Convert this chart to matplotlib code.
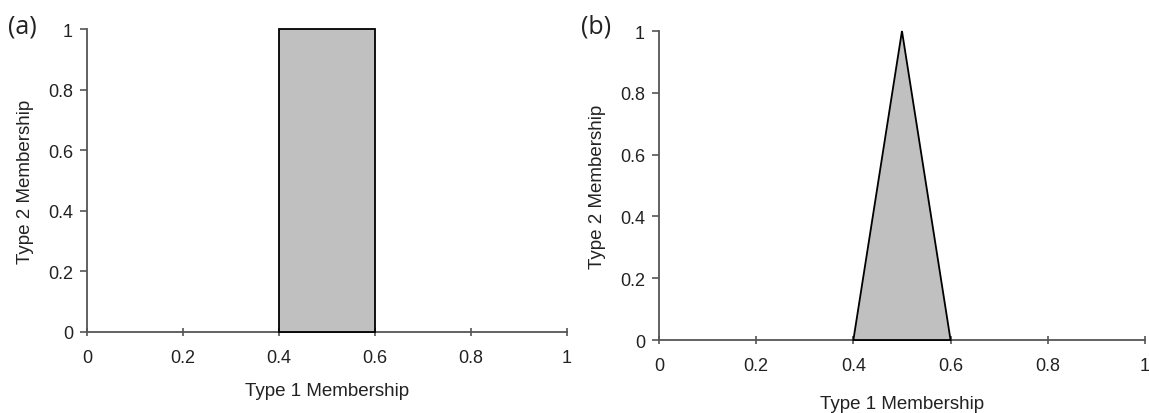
import matplotlib
matplotlib.use("Agg")
import matplotlib.pyplot as plt

# data
rect_x = [0.4, 0.4, 0.6, 0.6]
rect_y = [0, 1, 1, 0]
tri_x = [0.4, 0.5, 0.6]
tri_y = [0, 1, 0]
ticks = [0, 0.2, 0.4, 0.6, 0.8, 1]
tick_labels = ["0", "0.2", "0.4", "0.6", "0.8", "1"]

plt.rcParams["font.family"] = ["Liberation Sans", "DejaVu Sans"]

fig = plt.figure(figsize=(11.49, 4.14), dpi=100)
ax1 = fig.add_axes([0.0757, 0.1957, 0.4178, 0.7318])
ax2 = fig.add_axes([0.5735, 0.1763, 0.4230, 0.7464])


def style(ax, xlabel_pad):
    ax.set_xlim(0, 1)
    ax.set_ylim(0, 1)
    ax.set_xticks(ticks)
    ax.set_xticklabels(tick_labels)
    ax.set_yticks(ticks)
    ax.set_yticklabels(tick_labels)
    for s in ["top", "right"]:
        ax.spines[s].set_visible(False)
    for s in ["left", "bottom"]:
        ax.spines[s].set_color("#555555")
        ax.spines[s].set_linewidth(1.3)
    ax.tick_params(axis="y", direction="out", length=5, width=1.2,
                   color="#555555", labelsize=13, labelcolor="#222222", pad=5)
    ax.tick_params(axis="x", direction="inout", length=6, width=1.2,
                   color="#555555", labelsize=13, labelcolor="#222222", pad=9)
    ax.set_xlabel("Type 1 Membership", fontsize=13.5, color="#222222",
                  labelpad=xlabel_pad)
    ax.set_ylabel("Type 2 Membership", fontsize=13.5, color="#222222",
                  labelpad=10)


# (a) rectangular secondary membership
ax1.fill(rect_x, rect_y, facecolor="#c0c0c0", edgecolor="black",
         linewidth=1.3, clip_on=False, zorder=3)
style(ax1, 12)

# (b) triangular secondary membership
ax2.fill(tri_x, tri_y, facecolor="#c0c0c0", edgecolor="black",
         linewidth=1.3, clip_on=False, zorder=3)
style(ax2, 15)

fig.text(0.007, 0.935, "(a)", fontsize=18, color="#222222",
         family=["Open Sans", "DejaVu Sans"], va="center")
fig.text(0.506, 0.935, "(b)", fontsize=18, color="#222222",
         family=["Open Sans", "DejaVu Sans"], va="center")

fig.savefig("out.png", dpi=100, facecolor="white")
plt.close(fig)
